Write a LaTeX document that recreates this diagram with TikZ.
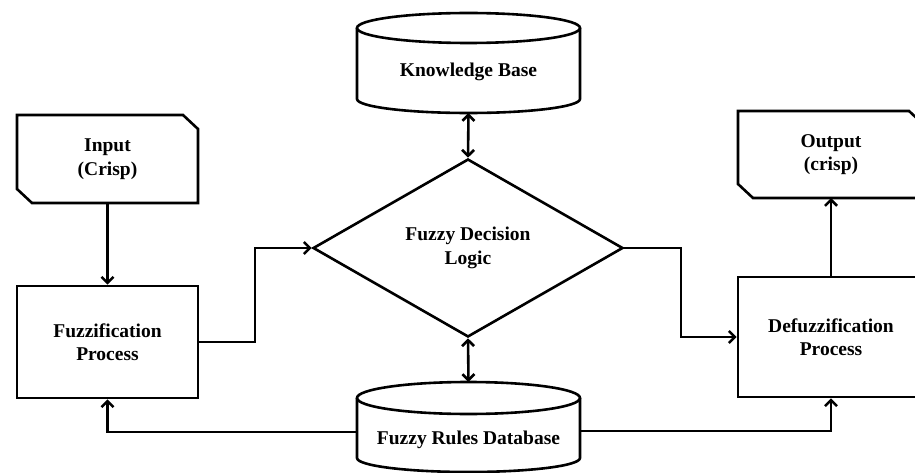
\documentclass[tikz,border=0pt]{standalone}
\usepackage{fontspec}
\setmainfont{Liberation Serif}
\usetikzlibrary{arrows.meta,shapes.geometric}
\begin{document}
\begin{tikzpicture}[x=1pt,y=-1pt,
  line width=2.6pt,
  >={Straight Barb[length=6pt,width=12pt]},
  lbl/.style={font=\bfseries\fontsize{19.5}{23.5}\selectfont, align=center},
  procbox/.style={lbl, draw, rectangle, inner sep=0pt},
  iobox/.style={lbl, inner sep=0pt, outer sep=0pt},
  cylbox/.style={inner sep=0pt, outer sep=0pt},
  decision/.style={lbl, draw, diamond, inner sep=0pt, aspect=1.74},
]
\useasboundingbox (0,0) rectangle (915,473);
\clip (0,0) rectangle (915,473);

% input / output boxes with two cut corners
\node[iobox, minimum width=181pt, minimum height=88pt] (in) at (107.5,159) {Input\\(Crisp)};
\draw (in.north west) -- ([xshift=-15pt]in.north east) -- ([yshift=-14pt]in.north east)
  -- (in.south east) -- ([xshift=15pt]in.south west) -- ([yshift=14pt]in.south west) -- cycle;

\node[iobox, minimum width=186pt, minimum height=87pt] (out) at (831,154.5) {Output\\(crisp)};
\draw (out.north west) -- ([xshift=-15pt]out.north east) -- ([yshift=-14pt]out.north east)
  -- (out.south east) -- ([xshift=15pt]out.south west) -- ([yshift=14pt]out.south west) -- cycle;

% process boxes
\node[procbox, minimum width=181pt, minimum height=112pt] (fz) at (107.5,342) {Fuzzification\\Process};
\node[procbox, minimum width=186pt, minimum height=120pt] (df) at (831,337) {Defuzzification\\Process};

% decision
\node[decision, minimum width=310pt, minimum height=178pt] (dm) at (468,248) {Fuzzy Decision\\Logic};

% knowledge base cylinder
\node[cylbox, minimum width=223pt, minimum height=100pt] (kb) at (468.5,63) {};
\draw (468.5,28) ellipse [x radius=111.5pt, y radius=15pt];
\draw (357,28) -- (357,99) arc[start angle=180, end angle=360, x radius=111.5pt, y radius=14pt] -- (580,28);
\node[lbl] (kbtext) at (468.5,72) {Knowledge Base};

% rules database cylinder
\node[cylbox, minimum width=223pt, minimum height=90pt] (fr) at (468.5,427) {};
\draw (468.5,398) ellipse [x radius=111.5pt, y radius=16pt];
\draw (357,398) -- (357,458) arc[start angle=180, end angle=360, x radius=111.5pt, y radius=14pt] -- (580,398);
\node[lbl] (frtext) at (468.5,440) {Fuzzy Rules Database};

% connectors
\coordinate (j1) at (255,0);
\coordinate (j2) at (681,0);
\draw[->] (in.south) -- (fz.north);
\draw[->] (fz.east) -- (fz.east -| j1) |- (dm.west);
\draw[->] (dm.east) -- (dm.east -| j2) |- (df.west);
\draw[->] (df.north) -- (out.south);
\draw[<->] (kb.south) -- (dm.north);
\draw[<->] (dm.south) -- (fr.north);
\draw[->] ([yshift=-5pt]fr.west) -| (fz.south);
\draw[->] ([yshift=-4pt]fr.east) -| (df.south);
\end{tikzpicture}
\end{document}
